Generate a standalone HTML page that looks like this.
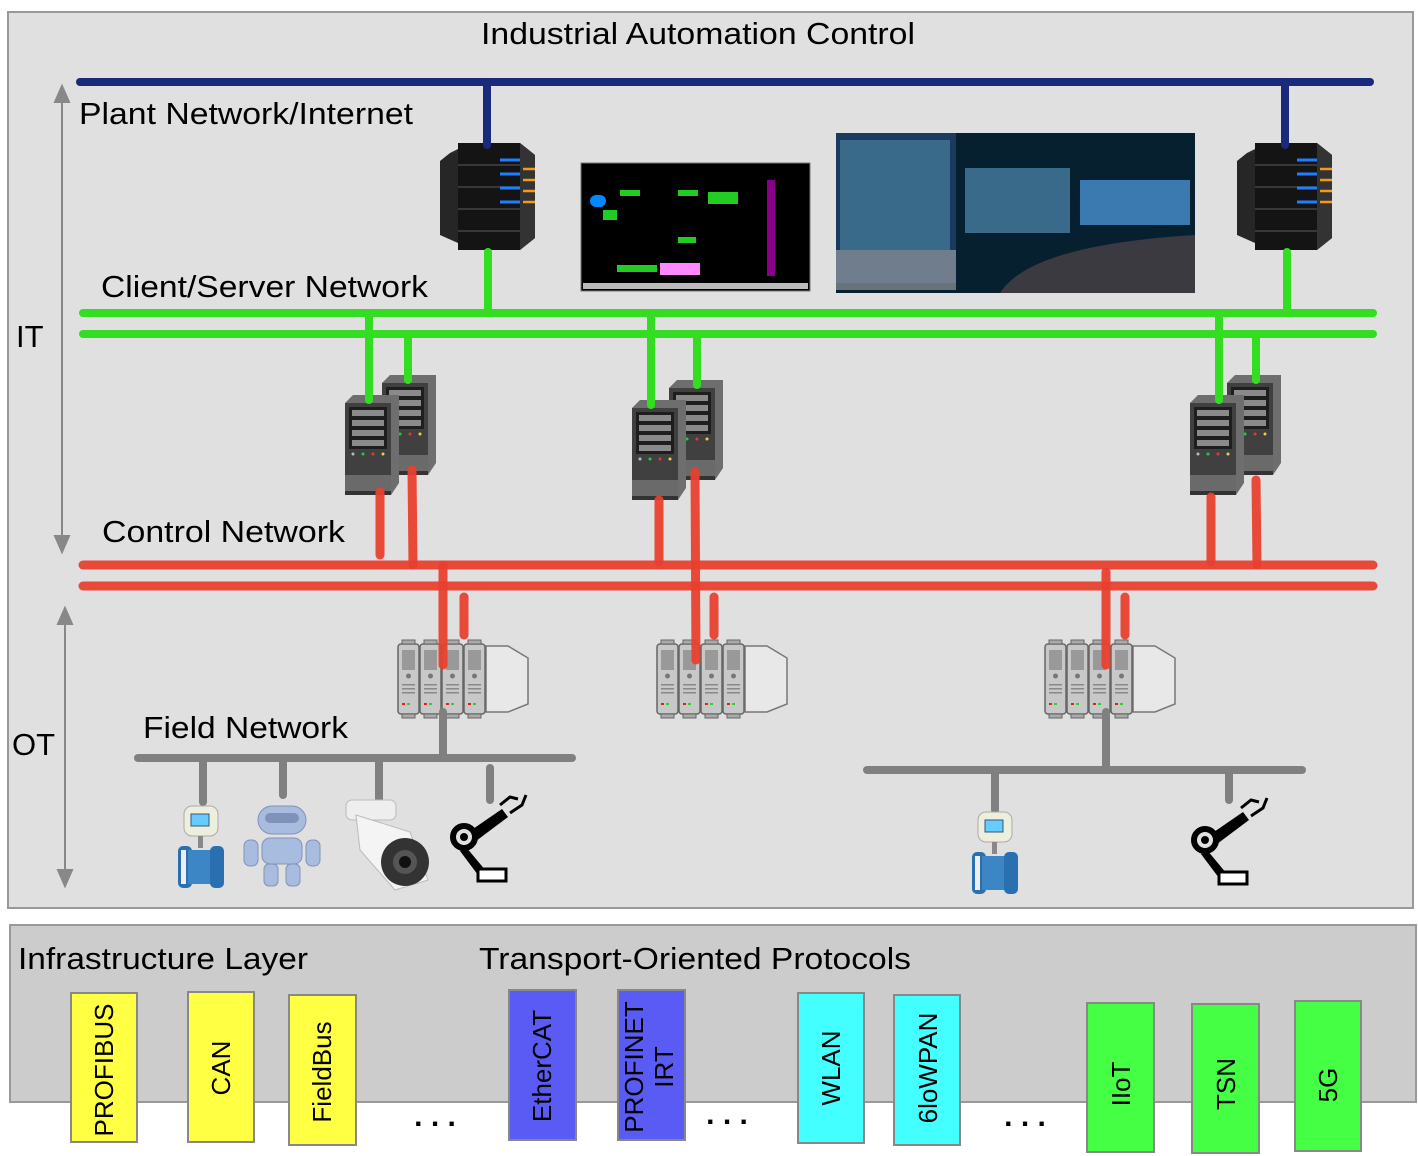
<!DOCTYPE html>
<html><head><meta charset="utf-8"><style>
html,body{margin:0;padding:0;background:#fff}
svg{display:block;font-family:"Liberation Sans",sans-serif}
</style></head><body>
<svg width="1418" height="1156" viewBox="0 0 1418 1156" xmlns="http://www.w3.org/2000/svg">
<defs>
<g id="srv">
  <path d="M8 0 L54 0 L54 88 L46 100 L0 100 L0 8 Z" fill="#6e6e6e"/>
  <rect x="0" y="8" width="46" height="92" fill="#404040"/>
  <rect x="0" y="80" width="46" height="20" fill="#6a6a6a"/>
  <rect x="0" y="96" width="46" height="4" fill="#333"/>
  <rect x="4" y="12" width="38" height="42" fill="#1e1e1e"/>
  <rect x="7" y="15" width="32" height="6" fill="#8a8a8a"/>
  <rect x="7" y="25" width="32" height="6" fill="#8a8a8a"/>
  <rect x="7" y="35" width="32" height="6" fill="#8a8a8a"/>
  <rect x="7" y="45" width="32" height="6" fill="#8a8a8a"/>
  <circle cx="8" cy="59" r="1.5" fill="#bbb"/><circle cx="18" cy="59" r="1.5" fill="#2c4"/>
  <circle cx="28" cy="59" r="1.5" fill="#e33"/><circle cx="38" cy="59" r="1.5" fill="#ec4"/>
</g>
<g id="plc">
  <path d="M88 6 L110 6 L130 18 L130 64 L110 72 L88 72 Z" fill="#e8e8e8" stroke="#777" stroke-width="1.5"/>
  <g id="mod"><rect x="0" y="4" width="21" height="70" rx="3" fill="#c8c8c8" stroke="#666" stroke-width="1.5"/>
  <rect x="4" y="10" width="13" height="20" fill="#999"/><circle cx="10.5" cy="36" r="2.5" fill="#777"/>
  <rect x="4" y="44" width="13" height="1.5" fill="#888"/><rect x="4" y="48" width="13" height="1.5" fill="#888"/><rect x="4" y="52" width="13" height="1.5" fill="#888"/>
  <rect x="4" y="63" width="3" height="2" fill="#d22"/><rect x="9" y="63" width="3" height="2" fill="#3c3"/>
  <rect x="4" y="0" width="13" height="4" fill="#aaa" stroke="#666"/><rect x="4" y="74" width="13" height="4" fill="#aaa" stroke="#666"/></g>
  <use href="#mod" x="22"/><use href="#mod" x="44"/><use href="#mod" x="66"/>
</g>
<g id="tower">
  <path d="M10 10 L30 0 L30 100 L10 95 Z" fill="#2a2a2a"/>
  <path d="M18 0 L80 0 L95 12 L95 95 L80 107 L18 107 Z" fill="#1a1a1a"/>
  <path d="M80 0 L95 12 L95 95 L80 107 Z" fill="#333"/>
  <rect x="18" y="0" width="62" height="107" fill="#141414"/>
  <g stroke="#444" stroke-width="1.5"><line x1="18" y1="22" x2="80" y2="22"/><line x1="18" y1="44" x2="80" y2="44"/><line x1="18" y1="66" x2="80" y2="66"/><line x1="18" y1="88" x2="80" y2="88"/>
  <line x1="0" y1="30" x2="18" y2="30"/><line x1="0" y1="55" x2="18" y2="55"/><line x1="0" y1="80" x2="18" y2="80"/></g>
  <path d="M0 18 L10 10 L18 10 L18 100 L0 92 Z" fill="#262626"/>
  <g stroke="#1e7fff" stroke-width="3"><line x1="60" y1="17" x2="80" y2="17"/><line x1="60" y1="31" x2="80" y2="31"/><line x1="60" y1="45" x2="80" y2="45"/><line x1="60" y1="59" x2="80" y2="59"/></g>
  <g stroke="#f39a1a" stroke-width="2.5"><line x1="83" y1="26" x2="95" y2="26"/><line x1="83" y1="37" x2="95" y2="37"/><line x1="83" y1="48" x2="95" y2="48"/><line x1="83" y1="59" x2="95" y2="59"/></g>
</g>
<g id="meter">
  <rect x="6" y="0" width="34" height="30" rx="8" fill="#eeeedd" stroke="#aaa"/>
  <rect x="13" y="8" width="18" height="12" fill="#6cf" stroke="#357"/>
  <rect x="20" y="30" width="5" height="12" fill="#888"/>
  <rect x="0" y="40" width="14" height="42" rx="5" fill="#2a6fb0"/>
  <rect x="10" y="44" width="26" height="34" fill="#3d86c6"/>
  <rect x="32" y="40" width="14" height="42" rx="5" fill="#2a6fb0"/>
  <rect x="3" y="44" width="5" height="34" fill="#eee"/>
</g>
<g id="arm">
  <circle cx="12" cy="42" r="11" fill="none" stroke="#000" stroke-width="6"/>
  <circle cx="12" cy="42" r="4" fill="#000"/>
  <path d="M18 36 L50 14 L56 22 L24 46 Z" fill="#000"/>
  <path d="M14 52 L34 76 L26 80 L8 56 Z" fill="#000"/>
  <path d="M48 10 L58 2 L66 4 M58 18 L70 10 L74 0" fill="none" stroke="#000" stroke-width="3"/>
  <rect x="26" y="74" width="28" height="12" fill="#fff" stroke="#000" stroke-width="3"/>
</g>
</defs>

<rect x="8" y="12" width="1405" height="896" fill="#e0e0e0" stroke="#999" stroke-width="2"/>
<rect x="10" y="925" width="1406" height="177" fill="#cccccc" stroke="#999" stroke-width="2"/>

<g font-size="31" lengthAdjust="spacingAndGlyphs">
<text x="481" y="44" textLength="434" lengthAdjust="spacingAndGlyphs">Industrial Automation Control</text>
<text x="79" y="124" textLength="334" lengthAdjust="spacingAndGlyphs">Plant Network/Internet</text>
<text x="101" y="297" textLength="327" lengthAdjust="spacingAndGlyphs">Client/Server Network</text>
<text x="102" y="542" textLength="243" lengthAdjust="spacingAndGlyphs">Control Network</text>
<text x="143" y="738" textLength="205" lengthAdjust="spacingAndGlyphs">Field Network</text>
<text x="16" y="347">IT</text>
<text x="12" y="755">OT</text>
<text x="18" y="969" textLength="290" lengthAdjust="spacingAndGlyphs">Infrastructure Layer</text>
<text x="479" y="969" textLength="432" lengthAdjust="spacingAndGlyphs">Transport-Oriented Protocols</text>
</g>

<!-- arrows -->
<g stroke="#888" stroke-width="2" fill="#888">
<line x1="62" y1="98" x2="62" y2="540"/><path d="M55 102 L62 86 L69 102 Z"/><path d="M55 536 L62 552 L69 536 Z"/>
<line x1="65" y1="620" x2="65" y2="875"/><path d="M58 624 L65 608 L72 624 Z"/><path d="M58 870 L65 886 L72 870 Z"/>
</g>

<!-- images -->
<use href="#tower" x="440" y="143"/>
<use href="#tower" x="1237" y="143"/>
<rect x="581" y="163" width="229" height="128" fill="#000" stroke="#777"/>
<g fill="#2c2">
<rect x="620" y="190" width="20" height="6"/><rect x="678" y="190" width="20" height="6"/><rect x="708" y="192" width="30" height="12"/><rect x="603" y="210" width="14" height="10"/><rect x="678" y="237" width="18" height="6"/><rect x="617" y="265" width="40" height="7"/>
</g>
<rect x="767" y="180" width="8" height="96" fill="#808"/>
<rect x="590" y="195" width="16" height="12" rx="6" fill="#08f"/>
<rect x="660" y="263" width="40" height="12" fill="#f8f"/>
<rect x="583" y="283" width="225" height="6" fill="#bbb"/>
<rect x="836" y="133" width="359" height="160" fill="#062030"/>
<rect x="836" y="133" width="120" height="150" fill="#1a3a60"/>
<rect x="840" y="140" width="110" height="110" fill="#3a6a8a"/>
<rect x="965" y="168" width="105" height="65" fill="#3a6a8a"/>
<rect x="1080" y="180" width="110" height="45" fill="#3a7ab0"/>
<path d="M1000 293 Q1030 245 1195 235 L1195 293 Z" fill="#3a3a40"/>
<rect x="836" y="250" width="120" height="40" fill="#aaa" opacity=".6"/>

<use href="#srv" x="382" y="375"/><use href="#srv" x="345" y="395"/>
<use href="#srv" x="669" y="380"/><use href="#srv" x="632" y="400"/>
<use href="#srv" x="1227" y="375"/><use href="#srv" x="1190" y="395"/>

<use href="#plc" x="398" y="640"/>
<use href="#plc" x="657" y="640"/>
<use href="#plc" x="1045" y="640"/>

<!-- lines -->
<g stroke-linecap="round" fill="none">
<g stroke="#1a2a7a" stroke-width="8"><line x1="80" y1="82" x2="1370" y2="82"/><line x1="487" y1="82" x2="487" y2="145"/><line x1="1285" y1="82" x2="1285" y2="145"/></g>
<g stroke="#33dd22" stroke-width="8">
<line x1="83" y1="313" x2="1373" y2="313"/><line x1="83" y1="334" x2="1373" y2="334"/>
<line x1="488" y1="252" x2="488" y2="313"/><line x1="1287" y1="252" x2="1287" y2="313"/>
<line x1="369" y1="313" x2="369" y2="400"/><line x1="408" y1="334" x2="408" y2="380"/>
<line x1="651" y1="313" x2="651" y2="405"/><line x1="697" y1="334" x2="697" y2="385"/>
<line x1="1219" y1="313" x2="1219" y2="400"/><line x1="1256" y1="334" x2="1256" y2="380"/>
</g>
<g stroke="#e8402f" stroke-width="9" stroke-opacity=".95">
<line x1="83" y1="565" x2="1373" y2="565"/><line x1="83" y1="586" x2="1373" y2="586"/>
<line x1="380" y1="492" x2="380" y2="555"/><line x1="412" y1="470" x2="413" y2="565"/>
<line x1="443" y1="565" x2="443" y2="665"/><line x1="464" y1="597" x2="464" y2="635"/>
<line x1="659" y1="500" x2="659" y2="562"/><line x1="695" y1="472" x2="696" y2="660"/>
<line x1="714" y1="597" x2="714" y2="635"/>
<line x1="1211" y1="497" x2="1211" y2="562"/><line x1="1256" y1="480" x2="1257" y2="565"/>
<line x1="1106" y1="572" x2="1106" y2="665"/><line x1="1125" y1="597" x2="1125" y2="635"/>
</g>
<g stroke="#808080" stroke-width="8">
<line x1="138" y1="758" x2="572" y2="758"/><line x1="443" y1="712" x2="443" y2="758"/>
<line x1="203" y1="758" x2="203" y2="802"/><line x1="283" y1="758" x2="283" y2="795"/><line x1="379" y1="758" x2="379" y2="800"/><line x1="490" y1="768" x2="490" y2="800"/>
<line x1="867" y1="770" x2="1302" y2="770"/><line x1="1106" y1="712" x2="1106" y2="770"/>
<line x1="995" y1="770" x2="995" y2="810"/><line x1="1229" y1="770" x2="1229" y2="800"/>
</g>
</g>

<!-- devices -->
<use href="#meter" x="178" y="806"/>
<use href="#meter" x="972" y="812"/>
<g fill="#a8bce0" stroke="#7f93b8">
<rect x="258" y="806" width="48" height="28" rx="14"/>
<rect x="262" y="838" width="40" height="26" rx="8"/>
<rect x="244" y="840" width="14" height="26" rx="6"/><rect x="306" y="840" width="14" height="26" rx="6"/>
<rect x="264" y="864" width="14" height="22" rx="5"/><rect x="286" y="864" width="14" height="22" rx="5"/>
</g>
<rect x="265" y="813" width="34" height="10" rx="5" fill="#7f93b8"/>
<rect x="346" y="800" width="50" height="20" rx="6" fill="#eee" stroke="#bbb"/>
<path d="M356 815 L410 832 L428 880 L395 890 L360 850 Z" fill="#f4f4f4" stroke="#bbb"/>
<circle cx="405" cy="862" r="24" fill="#333"/><circle cx="405" cy="862" r="12" fill="#555"/><circle cx="405" cy="862" r="6" fill="#111"/>
<use href="#arm" x="452" y="795"/>
<use href="#arm" x="1193" y="798"/>

<!-- bottom -->
<g stroke="#888" stroke-width="2">
<rect x="71" y="993" width="66" height="149" fill="#ffff44"/>
<rect x="188" y="992" width="66" height="150" fill="#ffff44"/>
<rect x="289" y="995" width="67" height="150" fill="#ffff44"/>
<rect x="509" y="990" width="67" height="150" fill="#5a5af5"/>
<rect x="618" y="990" width="67" height="150" fill="#5a5af5"/>
<rect x="798" y="993" width="66" height="150" fill="#44ffff"/>
<rect x="894" y="995" width="66" height="150" fill="#44ffff"/>
<rect x="1087" y="1003" width="67" height="149" fill="#44ff44"/>
<rect x="1192" y="1004" width="67" height="149" fill="#44ff44"/>
<rect x="1295" y="1001" width="66" height="150" fill="#44ff44"/>
</g>
<g font-size="26" text-anchor="middle">
<text transform="translate(113,1070) rotate(-90)">PROFIBUS</text>
<text transform="translate(230,1068) rotate(-90)">CAN</text>
<text transform="translate(331,1072) rotate(-90)">FieldBus</text>
<text transform="translate(551,1066) rotate(-90)">EtherCAT</text>
<text transform="translate(643,1067) rotate(-90)">PROFINET</text>
<text transform="translate(673,1067) rotate(-90)">IRT</text>
<text transform="translate(840,1068) rotate(-90)">WLAN</text>
<text transform="translate(937,1068) rotate(-90)">6loWPAN</text>
<text transform="translate(1130,1084) rotate(-90)">IIoT</text>
<text transform="translate(1235,1084) rotate(-90)">TSN</text>
<text transform="translate(1337,1085) rotate(-90)">5G</text>
</g>
<g font-size="30" font-weight="bold" text-anchor="middle">
<text x="435" y="1126">. . .</text>
<text x="727" y="1124">. . .</text>
<text x="1025" y="1126">. . .</text>
</g>
</svg>
</body></html>
